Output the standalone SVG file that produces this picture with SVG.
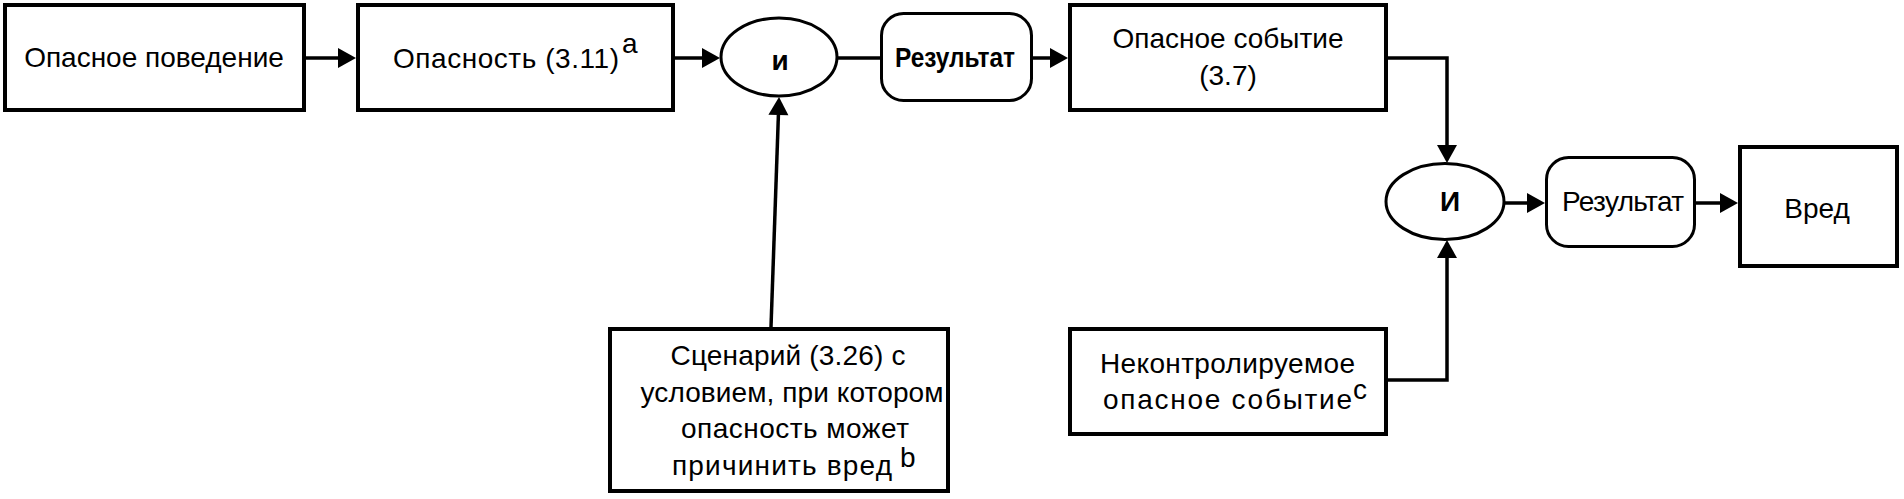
<svg xmlns="http://www.w3.org/2000/svg" width="1904" height="499" viewBox="0 0 1904 499">
<style>
.box{fill:#fff;stroke:#000;stroke-width:4}
.rbox{fill:#fff;stroke:#000;stroke-width:3}
.ell{fill:#fff;stroke:#000;stroke-width:3}
.t{font-family:"Liberation Sans",Arial,sans-serif;font-size:28px;fill:#000}
.c{text-anchor:middle}
.b{font-weight:bold}
.con{fill:none;stroke:#000;stroke-width:3.5}
</style>
<defs>
<marker id="arr" markerUnits="userSpaceOnUse" markerWidth="18" markerHeight="20" refX="0" refY="10" orient="auto" overflow="visible">
<path d="M0,0 L18,10 L0,20 Z" fill="#000"/>
</marker>
</defs>
<g id="connectors">
<line class="con" x1="306" y1="58" x2="338" y2="58" marker-end="url(#arr)"/>
<line class="con" x1="675" y1="58" x2="702" y2="58" marker-end="url(#arr)"/>
<line class="con" x1="838" y1="58" x2="880" y2="58"/>
<line class="con" x1="1033" y1="58" x2="1050" y2="58" marker-end="url(#arr)"/>
<polyline class="con" points="1388,58 1447,58 1447,145" marker-end="url(#arr)"/>
<line class="con" x1="1505" y1="203" x2="1527" y2="203" marker-end="url(#arr)"/>
<line class="con" x1="1696" y1="203" x2="1720" y2="203" marker-end="url(#arr)"/>
<line class="con" x1="771" y1="327" x2="778.4" y2="115" marker-end="url(#arr)"/>
<polyline class="con" points="1388,380 1447,380 1447,258" marker-end="url(#arr)"/>
</g>
<g id="node-behaviour">
<rect class="box" x="5" y="5" width="299" height="105"/>
<text class="t c" x="154" y="67">Опасное поведение</text>
</g>
<g id="node-hazard">
<rect class="box" x="358" y="5" width="315" height="105"/>
<text class="t" x="393" y="68" textLength="226" lengthAdjust="spacing">Опасность (3.11)</text>
<text class="t" x="622" y="53" font-size="18">a</text>
</g>
<g id="node-and1">
<ellipse class="ell" cx="779" cy="57" rx="58" ry="39"/>
<text class="t c b" x="780" y="70" font-size="32">и</text>
</g>
<g id="node-result1">
<rect class="rbox" x="881.5" y="13.5" width="150" height="87" rx="22" ry="22"/>
<text class="t b" x="895" y="67" font-size="24" textLength="120" lengthAdjust="spacingAndGlyphs">Результат</text>
</g>
<g id="node-event">
<rect class="box" x="1070" y="5" width="316" height="105"/>
<text class="t c" x="1228" y="48">Опасное событие</text>
<text class="t c" x="1228" y="85">(3.7)</text>
</g>
<g id="node-scenario">
<rect class="box" x="610" y="329" width="338" height="162"/>
<text class="t c" x="788" y="365" textLength="235" lengthAdjust="spacing">Сценарий (3.26) с</text>
<text class="t c" x="792" y="402" textLength="303" lengthAdjust="spacing">условием, при котором</text>
<text class="t c" x="795" y="438" textLength="228" lengthAdjust="spacing">опасность может</text>
<text class="t" x="672" y="475" textLength="220" lengthAdjust="spacing">причинить вред</text>
<text class="t" x="900" y="467" font-size="14">b</text>
</g>
<g id="node-uncontrolled">
<rect class="box" x="1070" y="329" width="316" height="105"/>
<text class="t" x="1100" y="373" textLength="255" lengthAdjust="spacing">Неконтролируемое</text>
<text class="t" x="1103" y="409" textLength="249" lengthAdjust="spacing">опасное событие</text>
<text class="t" x="1353" y="399" font-size="13">c</text>
</g>
<g id="node-and2">
<ellipse class="ell" cx="1445" cy="201.5" rx="59" ry="38"/>
<text class="t c b" x="1450" y="211" font-size="21">И</text>
</g>
<g id="node-result2">
<rect class="rbox" x="1546.5" y="157.5" width="148" height="89" rx="22" ry="22"/>
<text class="t" x="1562" y="211" font-size="23" textLength="122" lengthAdjust="spacing">Результат</text>
</g>
<g id="node-harm">
<rect class="box" x="1740" y="147" width="157" height="119"/>
<text class="t c" x="1817" y="218" font-size="31">Вред</text>
</g>
</svg>
